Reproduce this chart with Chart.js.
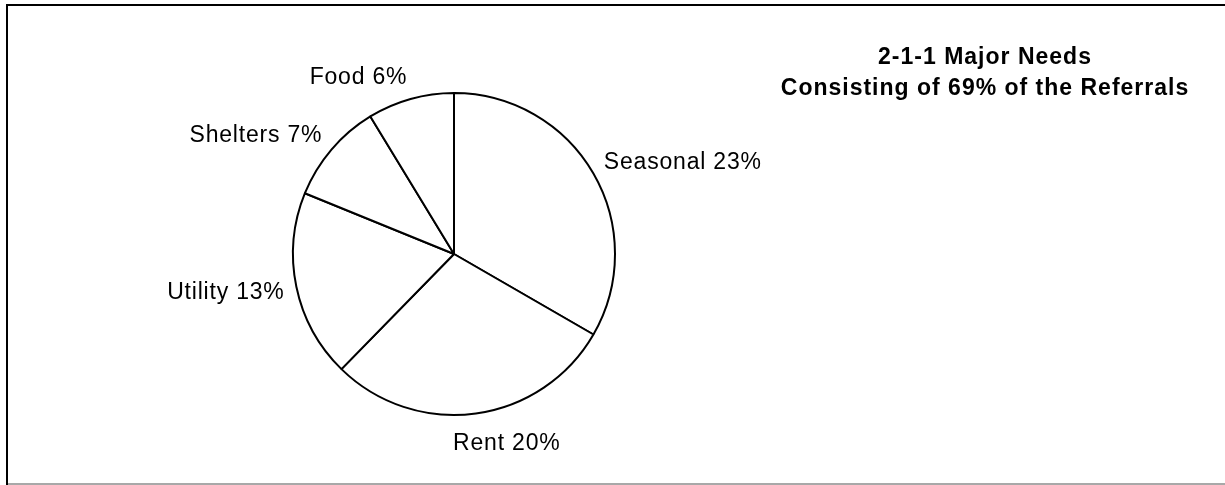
<!DOCTYPE html>
<html>
<head>
<meta charset="utf-8">
<script src="https://cdn.jsdelivr.net/npm/chart.js@4/dist/chart.umd.min.js"></script>
<style>
  html, body { margin: 0; padding: 0; background: #fff; }
  #wrap { position: relative; width: 1225px; height: 485px; }
</style>
</head>
<body>
<div id="wrap"><canvas id="c" width="1225" height="485"></canvas></div>
<script>
// ---- data ----
const categories = ["Seasonal", "Rent", "Utility", "Shelters", "Food"];
const percents = [23, 20, 13, 7, 6];
const titleLines = ["2-1-1 Major Needs", "Consisting of 69% of the Referrals"];

const labelFont = '23px "Liberation Sans", Arial, sans-serif';
const titleFont = 'bold 23px "Liberation Sans", Arial, sans-serif';

const framePlugin = {
  id: 'frame',
  beforeDraw(chart) {
    const ctx = chart.ctx;
    ctx.save();
    ctx.fillStyle = '#fff';
    ctx.fillRect(0, 0, chart.width, chart.height);
    ctx.fillStyle = '#000';
    ctx.fillRect(6, 4, 2, chart.height - 4);   // left edge
    ctx.fillRect(6, 4, chart.width - 6, 2);    // top edge
    ctx.fillStyle = '#a8a8a8';
    ctx.fillRect(8, chart.height - 2, chart.width - 8, 2); // bottom edge
    ctx.restore();
  }
};

const labelPlugin = {
  id: 'outLabels',
  afterDatasetsDraw(chart) {
    const ctx = chart.ctx;
    const meta = chart.getDatasetMeta(0);
    ctx.save();
    ctx.font = labelFont;
    try { ctx.letterSpacing = '0.8px'; } catch (e) {}
    ctx.fillStyle = '#000';
    ctx.textBaseline = 'middle';
    ctx.textAlign = 'left';
    const h = 20, gap = 12;
    meta.data.forEach((arc, i) => {
      const p = arc.getProps(['x', 'y', 'startAngle', 'endAngle', 'outerRadius'], true);
      const mid = (p.startAngle + p.endAngle) / 2;
      const c = Math.cos(mid), s = Math.sin(mid);
      const ax = p.x + (p.outerRadius + gap) * c;
      const ay = p.y + (p.outerRadius + gap) * s;
      const text = categories[i] + ' ' + percents[i] + '%';
      const w = ctx.measureText(text).width;
      const k = Math.max(-1, Math.min(1, c * 4));
      const cx = ax + k * w / 2;
      const cy = ay + s * h / 2 + Math.max(0, s) * 8;
      ctx.fillText(text, cx - w / 2, cy);
    });
    ctx.restore();
  }
};

const titlePlugin = {
  id: 'sideTitle',
  afterDraw(chart) {
    const ctx = chart.ctx;
    ctx.save();
    ctx.font = titleFont;
    try { ctx.letterSpacing = '1px'; } catch (e) {}
    ctx.fillStyle = '#000';
    ctx.textBaseline = 'alphabetic';
    ctx.textAlign = 'left';
    const cx = 985;
    const baselines = [64, 95];
    titleLines.forEach((t, i) => {
      const w = ctx.measureText(t).width;
      ctx.fillText(t, cx - w / 2, baselines[i]);
    });
    ctx.restore();
  }
};

new Chart(document.getElementById('c'), {
  type: 'pie',
  data: {
    labels: categories,
    datasets: [{
      data: percents,
      backgroundColor: '#ffffff',
      borderColor: '#000000',
      borderWidth: 2
    }]
  },
  options: {
    responsive: false,
    animation: false,
    layout: { padding: { left: 292, right: 609, top: 92, bottom: 69 } },
    plugins: {
      legend: { display: false },
      tooltip: { enabled: false },
      title: { display: false }
    }
  },
  plugins: [framePlugin, labelPlugin, titlePlugin]
});
</script>
</body>
</html>
